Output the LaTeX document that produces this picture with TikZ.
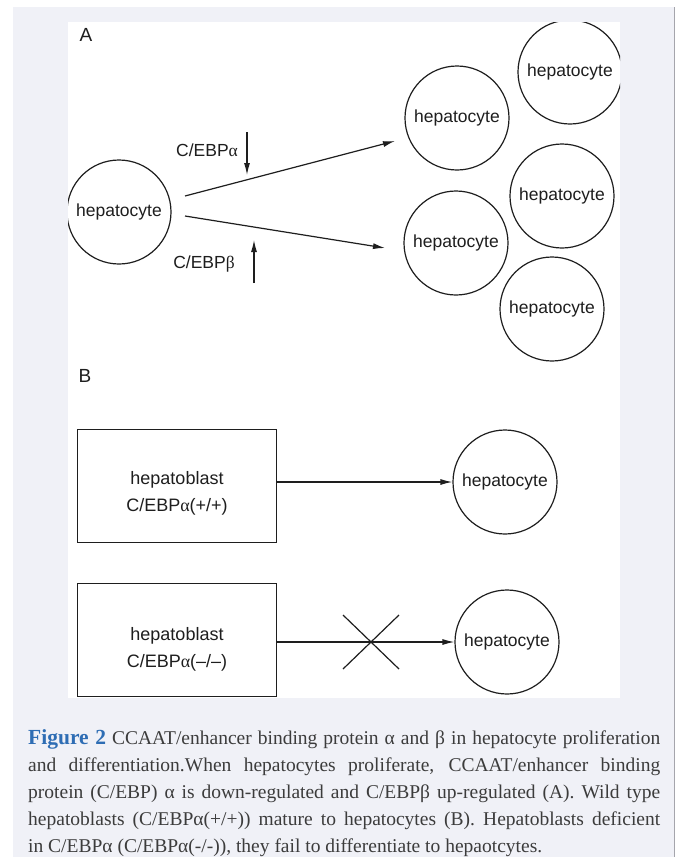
\documentclass[tikz,border=0pt]{standalone}
\usepackage{fontspec}
\setmainfont{Liberation Sans}
\newfontfamily\capfont{Liberation Serif}
\usetikzlibrary{arrows.meta,calc,positioning}
\definecolor{pagegray}{RGB}{240,241,247}
\definecolor{edgegray}{RGB}{165,165,172}
\definecolor{captext}{RGB}{60,60,60}
\definecolor{figblue}{RGB}{46,109,180}
\definecolor{ink}{RGB}{30,30,30}
\newcommand{\grk}[1]{{\capfont #1}}
\tikzset{
  cell/.style={circle, draw=ink, line width=1.2pt, minimum size=104pt, inner sep=0pt, text=ink, font=\fontsize{17.5}{20}\selectfont},
  blast/.style={rectangle, draw=ink, line width=1.2pt, minimum width=199pt, minimum height=113pt},
  blasttext/.style={align=center, text=ink, font=\fontsize{18}{27}\selectfont},
  reg/.style={text=ink, font=\fontsize{17.5}{20}\selectfont},
  arr/.style={draw=ink, line width=1.2pt, -{Latex[length=12pt,width=6pt]}},
  plain/.style={draw=ink, line width=1.2pt}
}
\begin{document}
\begin{tikzpicture}[x=1pt,y=-1pt]
\useasboundingbox (0,0) rectangle (677,863);
% page and panel
\fill[pagegray] (13,7) rectangle (674,857);
\draw[edgegray, line width=1pt] (674,7) -- (674,857);
\fill[white] (68,22) rectangle (620,698);
\begin{scope}
\clip (68,22) rectangle (620,698);
% panel labels
\node[reg, font=\fontsize{19}{20}\selectfont] (labA) at (86,35) {A};
\node[reg, font=\fontsize{19}{20}\selectfont] (labB) at (85,376) {B};
% A: proliferation
\node[cell] (h0) at (119,212) {hepatocyte};
\node[cell] (h1) at (457,118) {hepatocyte};
\node[cell] (h2) at (456,243) {hepatocyte};
\node[cell] (h3) at (570,72) {hepatocyte};
\node[cell] (h4) at (562,196) {hepatocyte};
\node[cell] (h5) at (552,309) {hepatocyte};
\coordinate (s1) at (185,196);
\coordinate (e1) at (395,141);
\coordinate (s2) at (185,216);
\coordinate (e2) at (385,248);
\draw[arr] (s1) -- (e1);
\draw[arr] (s2) -- (e2);
\node[reg] (alpha) at (207,150) {C/EBP\grk{α}};
\node[reg] (beta) at (204,264) {C/EBP\grk{β}};
\coordinate (dn) at (247,132);
\coordinate (up) at (254,283);
\draw[arr] (dn) -- ++(0,43);
\draw[arr] (up) -- ++(0,-43);
% B: differentiation
\node[blast] (b1) at (177,486) {};
\node[blasttext] (t1) at ($(b1.north)+(0,64)$) {hepatoblast\\C/EBP\grk{α}(+/+)};
\node[blast] (b2) at (177,640) {};
\node[blasttext] (t2) at ($(b2.north)+(0,66)$) {hepatoblast\\C/EBP\grk{α}(–/–)};
\node[cell] (c1) at (505,482) {hepatocyte};
\node[cell] (c2) at (507,642) {hepatocyte};
\draw[arr] (c1 -| b1.east) -- (c1);
\draw[arr] (c2 -| b2.east) -- (c2);
\coordinate (x) at (371,642);
\draw[plain] (x) +(-28,-27) -- +(28,27);
\draw[plain] (x) +(28,-27) -- +(-28,27);
\end{scope}
% caption
\node[anchor=base west, inner sep=0pt, align=left, text=captext,
  font=\capfont\fontsize{19.5}{26.8}\selectfont] (cap) at (28,852)
{\makebox[632pt][s]{{\color{figblue}\bfseries\fontsize{21.5}{26.8}\selectfont Figure 2} CCAAT/enhancer binding protein α and β in hepatocyte proliferation}\\
\makebox[632pt][s]{and differentiation.When hepatocytes proliferate, CCAAT/enhancer binding}\\
\makebox[632pt][s]{protein (C/EBP) α is down-regulated and C/EBPβ up-regulated (A). Wild type}\\
\makebox[632pt][s]{hepatoblasts (C/EBPα(+/+)) mature to hepatocytes (B). Hepatoblasts deficient}\\
\makebox[632pt][l]{in C/EBPα (C/EBPα(-/-)), they fail to differentiate to hepaotcytes.}};
\end{tikzpicture}
\end{document}
